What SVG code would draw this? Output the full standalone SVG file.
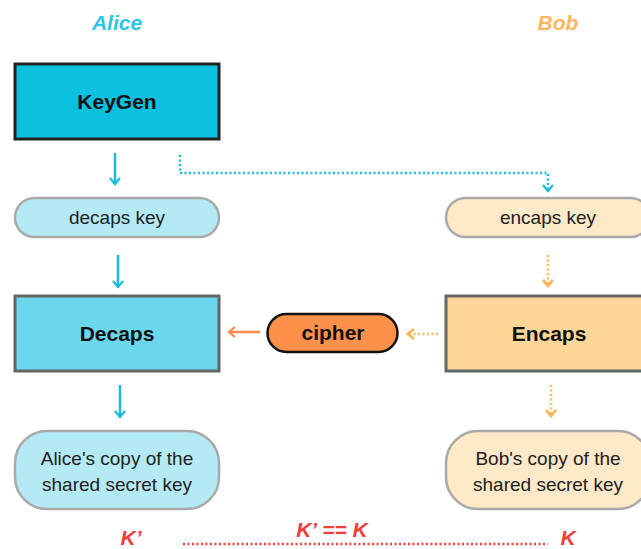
<svg xmlns="http://www.w3.org/2000/svg" width="641" height="549" viewBox="0 0 641 549">
  <style>
    .actor { font-family: "Liberation Sans", Arial, sans-serif; font-size: 21px; font-weight: bold; font-style: italic; text-anchor: middle; }
    .step { font-family: "Liberation Sans", Arial, sans-serif; font-size: 21px; font-weight: bold; fill: #111; text-anchor: middle; }
    .data { font-family: "Liberation Sans", Arial, sans-serif; font-size: 19px; fill: #222; text-anchor: middle; }
    .kvar { font-family: "Liberation Sans", Arial, sans-serif; font-size: 21px; font-weight: bold; font-style: italic; fill: #f23d3d; text-anchor: middle; }
    .alice-pill { fill: #b4eaf5; stroke: #a9a9a9; stroke-width: 2.5; }
    .bob-pill { fill: #fde8c8; stroke: #a9a9a9; stroke-width: 2.5; }
    .cyan { stroke: #1ab9dd; stroke-width: 2.5; fill: none; }
    .cyan-dot { stroke: #1ab9dd; stroke-width: 2.5; fill: none; stroke-dasharray: 2 2.5; }
    .orange { stroke: #fd8a4a; stroke-width: 2.5; fill: none; }
    .orange-dot { stroke: #fdb85e; stroke-width: 2.5; fill: none; stroke-dasharray: 2 2.5; }
    .red-dot { stroke: #f23d3d; stroke-width: 2.5; fill: none; stroke-dasharray: 2 2.5; }
  </style>
  <defs>
    <marker id="head-cyan" viewBox="0 0 12 12" refX="10" refY="6" markerWidth="12" markerHeight="12" markerUnits="userSpaceOnUse" orient="auto">
      <path d="M4,1 L10,6 L4,11" fill="none" stroke="#1ab9dd" stroke-width="2.2"/>
    </marker>
    <marker id="head-orange" viewBox="0 0 12 12" refX="10" refY="6" markerWidth="12" markerHeight="12" markerUnits="userSpaceOnUse" orient="auto">
      <path d="M4,1 L10,6 L4,11" fill="none" stroke="#fd8a4a" stroke-width="2.2"/>
    </marker>
    <marker id="head-gold" viewBox="0 0 12 12" refX="10" refY="6" markerWidth="12" markerHeight="12" markerUnits="userSpaceOnUse" orient="auto">
      <path d="M4,1 L10,6 L4,11" fill="none" stroke="#fdb85e" stroke-width="2.8"/>
    </marker>
  </defs>

  <rect width="641" height="549" fill="#ffffff"/>

  <!-- party headings -->
  <text class="actor" x="117" y="30" fill="#2cc5e8">Alice</text>
  <text class="actor" x="558" y="30" fill="#fdb65e">Bob</text>

  <!-- connectors -->
  <g id="connectors">
    <path class="cyan" d="M115,153 V184" marker-end="url(#head-cyan)"/>
    <path class="cyan-dot" d="M180,155 V173 H548 V191" marker-end="url(#head-cyan)"/>
    <path class="cyan" d="M118,255 V287" marker-end="url(#head-cyan)"/>
    <path class="orange-dot" d="M548,255 V286" marker-end="url(#head-gold)"/>
    <path class="orange-dot" d="M438,334 H408" marker-end="url(#head-gold)"/>
    <path class="orange" d="M260,332 H229" marker-end="url(#head-orange)"/>
    <path class="cyan" d="M120,385 V417" marker-end="url(#head-cyan)"/>
    <path class="orange-dot" d="M551,385 V416" marker-end="url(#head-gold)"/>
    <path class="red-dot" d="M183,544 H548"/>
  </g>

  <g id="keygen">
    <rect x="15" y="64" width="204" height="75" fill="#0cc0df" stroke="#222" stroke-width="3"/>
    <text class="step" x="117" y="109">KeyGen</text>
  </g>

  <g id="decaps-key">
    <rect class="alice-pill" x="15" y="198" width="204" height="39" rx="19.5"/>
    <text class="data" x="117" y="224">decaps key</text>
  </g>

  <g id="encaps-key">
    <rect class="bob-pill" x="446" y="198" width="204" height="39" rx="19.5"/>
    <text class="data" x="548" y="224">encaps key</text>
  </g>

  <g id="decaps">
    <rect x="15" y="296" width="204" height="75" fill="#6ad7ec" stroke="#666" stroke-width="3"/>
    <text class="step" x="117" y="341">Decaps</text>
  </g>

  <g id="cipher">
    <rect x="267.5" y="314" width="130" height="38" rx="19" fill="#fe914a" stroke="#111" stroke-width="2.5"/>
    <text class="step" x="333" y="340">cipher</text>
  </g>

  <g id="encaps">
    <rect x="446" y="296" width="210" height="75" fill="#fdd597" stroke="#666" stroke-width="3"/>
    <text class="step" x="549" y="341">Encaps</text>
  </g>

  <g id="alice-secret">
    <rect class="alice-pill" x="15" y="431" width="204" height="78" rx="32"/>
    <text class="data" x="117" y="465">Alice's copy of the</text>
    <text class="data" x="117" y="491">shared secret key</text>
  </g>

  <g id="bob-secret">
    <rect class="bob-pill" x="446" y="431" width="204" height="78" rx="32"/>
    <text class="data" x="548" y="465">Bob's copy of the</text>
    <text class="data" x="548" y="491">shared secret key</text>
  </g>

  <!-- key comparison -->
  <text class="kvar" x="131" y="545">K’</text>
  <text class="kvar" x="332" y="537">K’ == K</text>
  <text class="kvar" x="568" y="545">K</text>
</svg>
